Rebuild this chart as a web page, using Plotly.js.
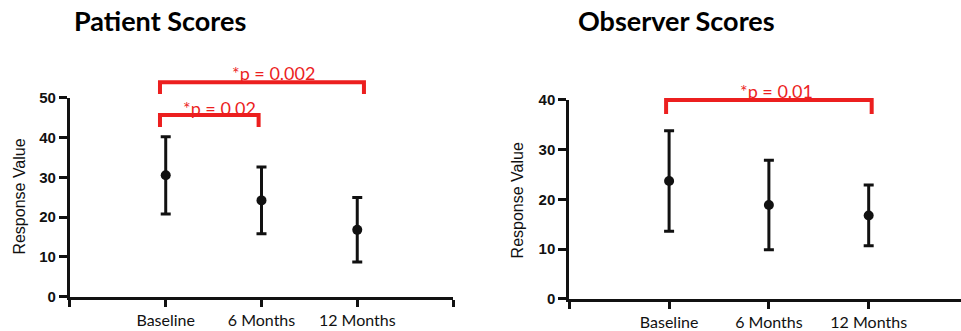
<!DOCTYPE html>
<html>
<head>
<meta charset="utf-8">
<script src="https://cdn.plot.ly/plotly-3.0.1.min.js"></script>
<style>html,body{margin:0;padding:0;background:#fff;}#chart{width:961px;height:331px;}</style>
</head>
<body>
<div id="chart"></div>
<script>
// ---- data ----
const categories = ['Baseline', '6 Months', '12 Months'];
const patientMeans = [30.5, 24.2, 16.8];
const patientErr = [9.7, 8.4, 8.1];
const observerMeans = [23.7, 18.9, 16.8];
const observerErr = [10.1, 9.0, 6.1];
const patientTicks = [0, 10, 20, 30, 40, 50];
const observerTicks = [0, 10, 20, 30, 40];
const patientP = ['*p = 0.02', '*p = 0.002'];
const observerP = ['*p = 0.01'];

const xpos = categories.map((c, i) => i + 1);
const red = '#ec1f1f';
const black = '#111';

function errTrace(y, err, xa, ya) {
  return {
    type: 'scatter', mode: 'markers', x: xpos, y: y, xaxis: xa, yaxis: ya,
    marker: {color: black, size: 10},
    error_y: {type: 'data', array: err, visible: true, color: black, thickness: 3, width: 5},
    showlegend: false, hoverinfo: 'skip'
  };
}

const data = [
  errTrace(patientMeans, patientErr, 'x', 'y'),
  errTrace(observerMeans, observerErr, 'x2', 'y2')
];

const tickFontY = {family: 'Liberation Sans, Arial, sans-serif', size: 15, color: black, weight: 'bold'};
const tickFontX = {family: 'Lato, sans-serif', size: 16, color: black};

function xAxis(domain, range, anchor) {
  return {
    domain: domain, range: range, anchor: anchor, showgrid: false, zeroline: false,
    showline: true, linecolor: black, linewidth: 3,
    ticks: 'outside', ticklen: 7, tickwidth: 3, tickcolor: black,
    tickmode: 'array', tickvals: [0].concat(xpos, [categories.length + 1]),
    ticktext: [''].concat(categories, ['']),
    tickfont: tickFontX, ticklabelstandoff: 0, fixedrange: true
  };
}
function yAxis(domain, range, tickvals, anchor) {
  return {
    domain: domain, range: range, anchor: anchor, showgrid: false, zeroline: false,
    showline: true, linecolor: black, linewidth: 3,
    ticks: 'outside', ticklen: 8, tickwidth: 3, tickcolor: black,
    tickmode: 'array', tickvals: tickvals, tickfont: tickFontY, fixedrange: true
  };
}

function bracket(xref, yref, x0, x1, top, leg) {
  return {
    type: 'path', xref: xref, yref: yref,
    path: `M ${x0} ${leg} L ${x0} ${top} L ${x1} ${top} L ${x1} ${leg}`,
    line: {color: red, width: 4}
  };
}

const shapes = [
  bracket('x', 'y domain', 0.94, 3.07, 1.078, 1.019),
  bracket('x', 'y domain', 0.94, 1.97, 0.913, 0.853),
  bracket('x2', 'y2 domain', 0.97, 3.03, 1.0, 0.929)
];

const pFont = {family: 'Lato, sans-serif', size: 18, color: red};
const titleFont = {family: 'Lato, sans-serif', size: 27, color: '#000', weight: 'bold'};
const axTitleFont = {family: 'Liberation Sans, Arial, sans-serif', size: 16, color: black};

const annotations = [
  {text: patientP[0], xref: 'x', yref: 'y domain', x: 1.56, y: 0.948, showarrow: false, font: pFont, xanchor: 'center', yanchor: 'middle'},
  {text: patientP[1], xref: 'x', yref: 'y domain', x: 2.13, y: 1.124, showarrow: false, font: pFont, xanchor: 'center', yanchor: 'middle'},
  {text: observerP[0], xref: 'x2', yref: 'y2 domain', x: 2.08, y: 1.047, showarrow: false, font: pFont, xanchor: 'center', yanchor: 'middle'},
  {text: 'Patient Scores', xref: 'paper', yref: 'paper', x: 0.1665, y: 0.9366, showarrow: false, font: titleFont, xanchor: 'center', yanchor: 'middle'},
  {text: 'Observer Scores', xref: 'paper', yref: 'paper', x: 0.7042, y: 0.9366, showarrow: false, font: titleFont, xanchor: 'center', yanchor: 'middle'},
  {text: 'Response Value', xref: 'paper', yref: 'paper', x: 0.0208, y: 0.406, showarrow: false, font: axTitleFont, textangle: -90, xanchor: 'center', yanchor: 'middle'},
  {text: 'Response Value', xref: 'paper', yref: 'paper', x: 0.5385, y: 0.396, showarrow: false, font: axTitleFont, textangle: -90, xanchor: 'center', yanchor: 'middle'}
];

const layout = {
  width: 961, height: 331,
  margin: {l: 0, r: 0, t: 0, b: 0},
  paper_bgcolor: '#fff', plot_bgcolor: '#fff',
  showlegend: false,
  xaxis: xAxis([0.0728, 0.4714], [0, 4], 'y'),
  yaxis: yAxis([0.1036, 0.7048], [0, 50], patientTicks, 'x'),
  xaxis2: xAxis([0.5924, 1.0], [0, 3.925], 'y2'),
  yaxis2: yAxis([0.0967, 0.6979], [0, 40], observerTicks, 'x2'),
  shapes: shapes,
  annotations: annotations
};

Plotly.newPlot('chart', data, layout, {displayModeBar: false, staticPlot: true});
</script>
</body>
</html>
